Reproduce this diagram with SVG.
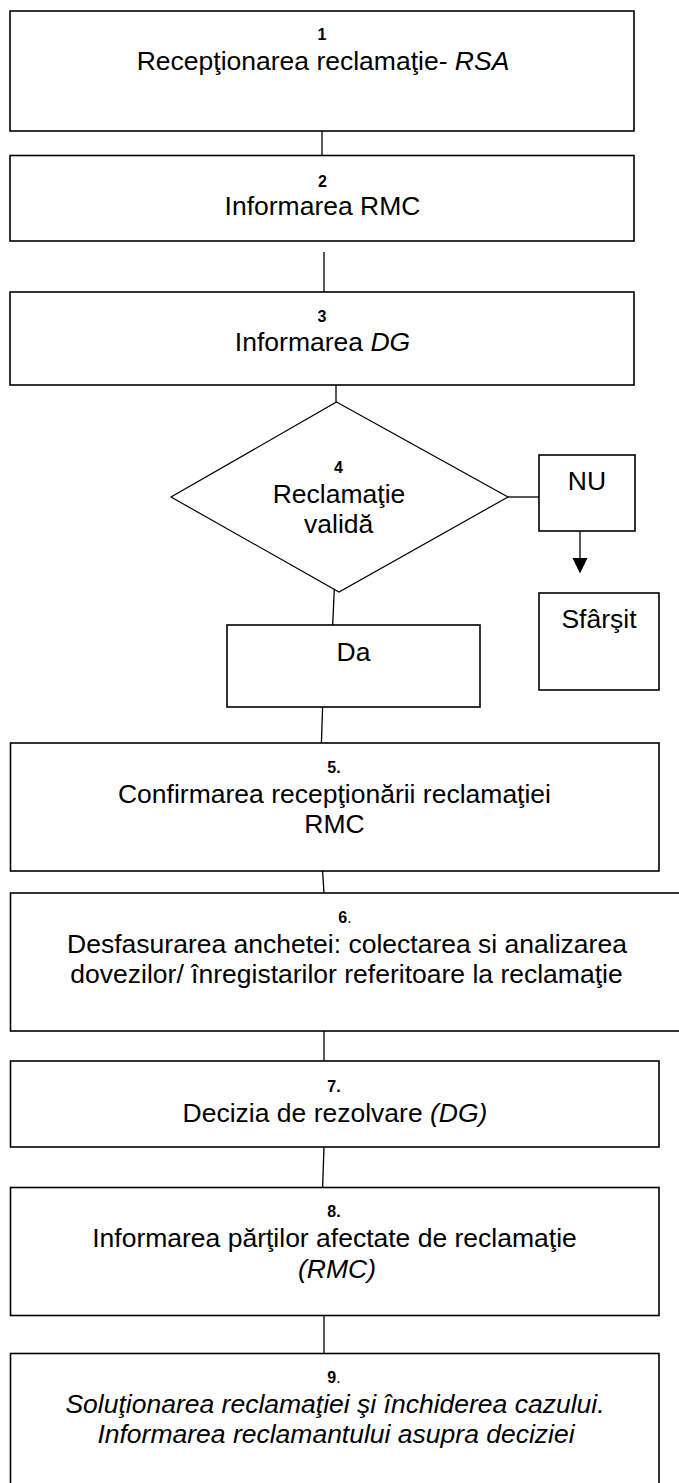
<svg xmlns="http://www.w3.org/2000/svg" width="679" height="1483" viewBox="0 0 679 1483">
<style>
.box{fill:#fff;stroke:#000;stroke-width:1.6}
.dia{fill:#fff;stroke:#000;stroke-width:1.2}
.con{fill:none;stroke:#000;stroke-width:1.3}
text{font-family:"Liberation Sans",Arial,sans-serif;fill:#000;text-anchor:middle}
.t{font-size:26.5px}
.n{font-size:16px;font-weight:bold}
.i{font-style:italic}
.r{font-weight:normal}
</style>
<defs>
<marker id="ah" markerWidth="15" markerHeight="15" refX="7.5" refY="15" orient="auto-start-reverse" markerUnits="userSpaceOnUse" viewBox="0 0 15 15">
<path d="M0,0 L15,0 L7.5,15 Z" fill="#000"/>
</marker>
</defs>
<rect width="679" height="1483" fill="#fff"/>
<g id="connectors">
<line class="con" x1="322" y1="131" x2="322" y2="155"/>
<line class="con" x1="324" y1="252" x2="324" y2="292"/>
<line class="con" x1="336" y1="385" x2="336" y2="411"/>
<line class="con" x1="508" y1="497" x2="539" y2="497"/>
<line class="con" x1="580" y1="518" x2="580" y2="558"/>
<path d="M572.5,558 L587.5,558 L580,573.5 Z" fill="#000"/>
<line class="con" x1="334.3" y1="589" x2="332.7" y2="625"/>
<line class="con" x1="322.6" y1="707" x2="321.4" y2="743"/>
<line class="con" x1="322.6" y1="871" x2="324" y2="893"/>
<line class="con" x1="324" y1="1031" x2="324" y2="1061"/>
<line class="con" x1="324" y1="1147" x2="322.6" y2="1188"/>
<line class="con" x1="324" y1="1315" x2="324" y2="1354"/>
</g>
<g id="n1">
<rect class="box" x="10" y="11" width="624" height="120"/>
<text class="n" x="322" y="40">1</text>
<text class="t" x="323" y="70">Recepţionarea reclamaţie- <tspan class="i">RSA</tspan></text>
</g>
<g id="n2">
<rect class="box" x="10" y="155.5" width="624" height="85.5"/>
<text class="n" x="322.5" y="187">2</text>
<text class="t" x="322.5" y="215">Informarea RMC</text>
</g>
<g id="n3">
<rect class="box" x="10" y="292" width="624" height="93"/>
<text class="n" x="322" y="322">3</text>
<text class="t" x="322.5" y="351">Informarea <tspan class="i">DG</tspan></text>
</g>
<g id="n4">
<polygon class="dia" points="336.5,402 508,497 339,592 171,497"/>
<text class="n" x="338.5" y="473">4</text>
<text class="t" x="339" y="503">Reclamaţie</text>
<text class="t" x="338.7" y="533">validă</text>
</g>
<g id="nu">
<rect class="box" x="539" y="455" width="96" height="76"/>
<text class="t" x="587" y="490">NU</text>
</g>
<g id="sfarsit">
<rect class="box" x="539" y="593" width="120" height="97"/>
<text class="t" x="599" y="628">Sfârşit</text>
</g>
<g id="da">
<rect class="box" x="227" y="625" width="253" height="82"/>
<text class="t" x="353.5" y="661">Da</text>
</g>
<g id="n5">
<rect class="box" x="10.5" y="743" width="648.5" height="128"/>
<text class="n" x="334" y="773">5.</text>
<text class="t" x="334.5" y="803">Confirmarea recepţionării reclamaţiei</text>
<text class="t" x="334.5" y="833">RMC</text>
</g>
<g id="n6">
<rect class="box" x="10.5" y="893" width="675" height="138"/>
<text class="n" x="345" y="923">6<tspan class="r">.</tspan></text>
<text class="t" x="347" y="953">Desfasurarea anchetei: colectarea si analizarea</text>
<text class="t" x="346.5" y="983">dovezilor/ înregistarilor referitoare la reclamaţie</text>
</g>
<g id="n7">
<rect class="box" x="10.5" y="1061" width="648.5" height="86"/>
<text class="n" x="334" y="1092">7.</text>
<text class="t" x="335" y="1122">Decizia de rezolvare <tspan class="i">(DG)</tspan></text>
</g>
<g id="n8">
<rect class="box" x="10.5" y="1187.5" width="648.5" height="128"/>
<text class="n" x="334" y="1217">8.</text>
<text class="t" x="334.5" y="1247">Informarea părţilor afectate de reclamaţie</text>
<text class="t i" x="337" y="1278">(RMC)</text>
</g>
<g id="n9">
<rect class="box" x="10.5" y="1353.5" width="648.5" height="140"/>
<text class="n" x="334" y="1383">9<tspan class="r">.</tspan></text>
<text class="t i" x="335" y="1413">Soluţionarea reclamaţiei şi închiderea cazului.</text>
<text class="t i" x="336" y="1443">Informarea reclamantului asupra deciziei</text>
</g>
</svg>
